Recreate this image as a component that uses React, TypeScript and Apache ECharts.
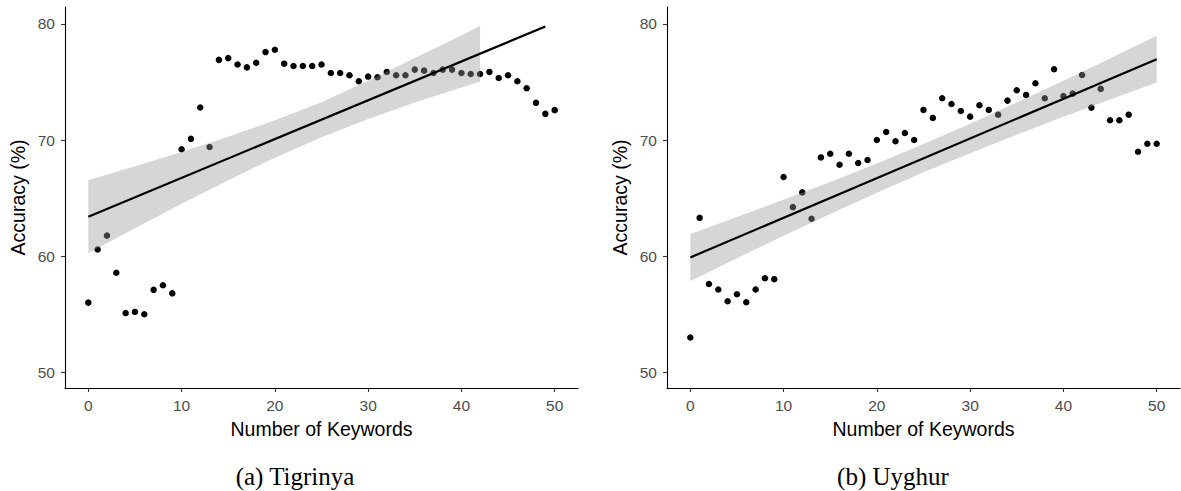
import React, { useEffect, useRef } from "react";
import * as echarts from "echarts";

// Number of keywords (x) for both panels
const KEYWORDS = [
  0, 1, 2, 3, 4, 5, 6, 7, 8, 9, 10, 11, 12, 13, 14, 15, 16, 17, 18, 19, 20, 21, 22, 23, 24, 25,
  26, 27, 28, 29, 30, 31, 32, 33, 34, 35, 36, 37, 38, 39, 40, 41, 42, 43, 44, 45, 46, 47, 48, 49, 50,
];

// (a) Tigrinya accuracy (%)
const TIGRINYA_ACC = [
  56.0, 60.57, 61.77, 58.57, 55.1, 55.2, 55.0, 57.1, 57.5, 56.8,
  69.2, 70.1, 72.8, 69.4, 76.9, 77.05, 76.5, 76.25, 76.65, 77.57,
  77.77, 76.57, 76.37, 76.37, 76.37, 76.5, 75.77, 75.77, 75.57, 75.06,
  75.46, 75.4, 75.86, 75.57, 75.57, 76.06, 75.97, 75.77, 76.06, 76.06,
  75.77, 75.68, 75.68, 75.86, 75.34, 75.57, 75.06, 74.46, 73.2, 72.25, 72.57,
];

// (b) Uyghur accuracy (%)
const UYGHUR_ACC = [
  53.0, 63.3, 57.6, 57.13, 56.12, 56.72, 56.03, 57.13, 58.1, 58.02,
  66.81, 64.22, 65.49, 63.22, 68.5, 68.82, 67.87, 68.82, 68.02, 68.28,
  70.0, 70.69, 69.89, 70.6, 70.0, 72.59, 71.9, 73.59, 73.1, 72.5,
  72.01, 72.99, 72.59, 72.18, 73.39, 74.28, 73.88, 74.89, 73.59, 76.09,
  73.79, 73.99, 75.6, 72.79, 74.4, 71.7, 71.7, 72.18, 68.99, 69.68, 69.68,
];

// Linear fit lines
const TIG_FIT_X = [0, 49];
const TIG_FIT_Y = [63.4, 79.77];
const UYG_FIT_X = [0, 50];
const UYG_FIT_Y = [59.89, 76.96];

// Confidence bands
const TIG_BAND_X = [0, 5, 10, 15, 20, 25, 30, 35, 40, 42];
const TIG_BAND_LOWER = [60.27, 62.41, 64.51, 66.54, 68.47, 70.24, 71.81, 73.22, 74.53, 75.03];
const TIG_BAND_UPPER = [66.53, 67.73, 68.97, 70.28, 71.69, 73.26, 75.1, 77.05, 78.99, 79.83];

const UYG_BAND_X = [0, 5, 10, 15, 20, 25, 30, 35, 40, 45, 50];
const UYG_BAND_LOWER = [57.87, 59.83, 61.75, 63.63, 65.46, 67.22, 68.87, 70.46, 72.0, 73.48, 74.94];
const UYG_BAND_UPPER = [61.91, 63.37, 64.85, 66.39, 67.98, 69.65, 71.39, 73.22, 75.1, 77.02, 78.98];

const X_TICKS = [0, 10, 20, 30, 40, 50];
const Y_TICKS = [50, 60, 70, 80];
const X_TITLE = "Number of Keywords";
const Y_TITLE = "Accuracy (%)";
const CAPTIONS = ["(a) Tigrinya", "(b) Uyghur"];

const SANS = "Liberation Sans, Arial, Helvetica, sans-serif";
const SERIF = "Liberation Serif, Times New Roman, serif";

function makeXAxis(gridIndex: number) {
  return {
    type: "value",
    gridIndex,
    min: -2.5,
    max: 52.5,
    axisLine: { show: true, onZero: false, lineStyle: { color: "#000", width: 1.1 } },
    axisTick: { show: true, customValues: X_TICKS, length: 4, lineStyle: { color: "#333", width: 1.1 } },
    axisLabel: { customValues: X_TICKS, color: "#4d4d4d", fontSize: 15.5, fontFamily: SANS, margin: 9 },
    splitLine: { show: false },
    name: X_TITLE,
    nameLocation: "middle",
    nameGap: 31,
    nameTextStyle: { color: "#000", fontSize: 19.5, fontFamily: SANS },
  };
}

function makeYAxis(gridIndex: number) {
  return {
    type: "value",
    gridIndex,
    min: 48.65,
    max: 81.45,
    axisLine: { show: true, onZero: false, lineStyle: { color: "#000", width: 1.1 } },
    axisTick: { show: true, customValues: Y_TICKS, length: 4, lineStyle: { color: "#333", width: 1.1 } },
    axisLabel: { customValues: Y_TICKS, color: "#4d4d4d", fontSize: 15.5, fontFamily: SANS, margin: 10 },
    splitLine: { show: false },
    name: Y_TITLE,
    nameLocation: "middle",
    nameRotate: 90,
    nameGap: 37,
    nameTextStyle: { color: "#000", fontSize: 19.5, fontFamily: SANS },
  };
}

function panelSeries(
  idx: number,
  acc: number[],
  fitX: number[],
  fitY: number[],
  bandX: number[],
  lower: number[],
  upper: number[]
) {
  const bandData = bandX.map((x, i) => [x, lower[i], upper[i]]);
  return [
    {
      type: "scatter",
      xAxisIndex: idx,
      yAxisIndex: idx,
      data: KEYWORDS.map((k, i) => [k, acc[i]]),
      symbol: "circle",
      symbolSize: 6.5,
      itemStyle: { color: "#000", opacity: 1 },
      z: 2,
      silent: true,
    },
    {
      type: "custom",
      xAxisIndex: idx,
      yAxisIndex: idx,
      data: bandData,
      encode: { x: 0, y: [1, 2] },
      z: 3,
      silent: true,
      renderItem: (params: any, api: any) => {
        if (params.dataIndex !== 0) return null;
        const top = bandData.map((d) => api.coord([d[0], d[2]]));
        const bottom = bandData
          .slice()
          .reverse()
          .map((d) => api.coord([d[0], d[1]]));
        return {
          type: "polygon",
          shape: { points: top.concat(bottom) },
          style: { fill: "#999999", opacity: 0.4 },
        };
      },
    },
    {
      type: "line",
      xAxisIndex: idx,
      yAxisIndex: idx,
      data: fitX.map((x, i) => [x, fitY[i]]),
      symbol: "none",
      lineStyle: { color: "#000", width: 2.2 },
      z: 4,
      silent: true,
    },
  ];
}

export default function App() {
  const ref = useRef<HTMLDivElement>(null);

  useEffect(() => {
    if (!ref.current) return;
    const chart = echarts.init(ref.current, null, { renderer: "svg" });
    chart.setOption({
      animation: false,
      backgroundColor: "#fff",
      grid: [
        { left: 65, top: 7, width: 513, height: 381 },
        { left: 667, top: 7, width: 513, height: 381 },
      ],
      xAxis: [makeXAxis(0), makeXAxis(1)],
      yAxis: [makeYAxis(0), makeYAxis(1)],
      series: [
        ...panelSeries(0, TIGRINYA_ACC, TIG_FIT_X, TIG_FIT_Y, TIG_BAND_X, TIG_BAND_LOWER, TIG_BAND_UPPER),
        ...panelSeries(1, UYGHUR_ACC, UYG_FIT_X, UYG_FIT_Y, UYG_BAND_X, UYG_BAND_LOWER, UYG_BAND_UPPER),
      ],
      graphic: [
        {
          type: "text",
          x: 295,
          y: 476,
          style: { text: CAPTIONS[0], fontSize: 25, fontFamily: SERIF, fill: "#000", align: "center", verticalAlign: "middle" },
        },
        {
          type: "text",
          x: 893,
          y: 476,
          style: { text: CAPTIONS[1], fontSize: 25, fontFamily: SERIF, fill: "#000", align: "center", verticalAlign: "middle" },
        },
      ],
    });
    return () => chart.dispose();
  }, []);

  return (
    <div
      ref={ref}
      style={{ position: "absolute", left: 0, top: 0, width: 1181, height: 491 }}
    />
  );
}
